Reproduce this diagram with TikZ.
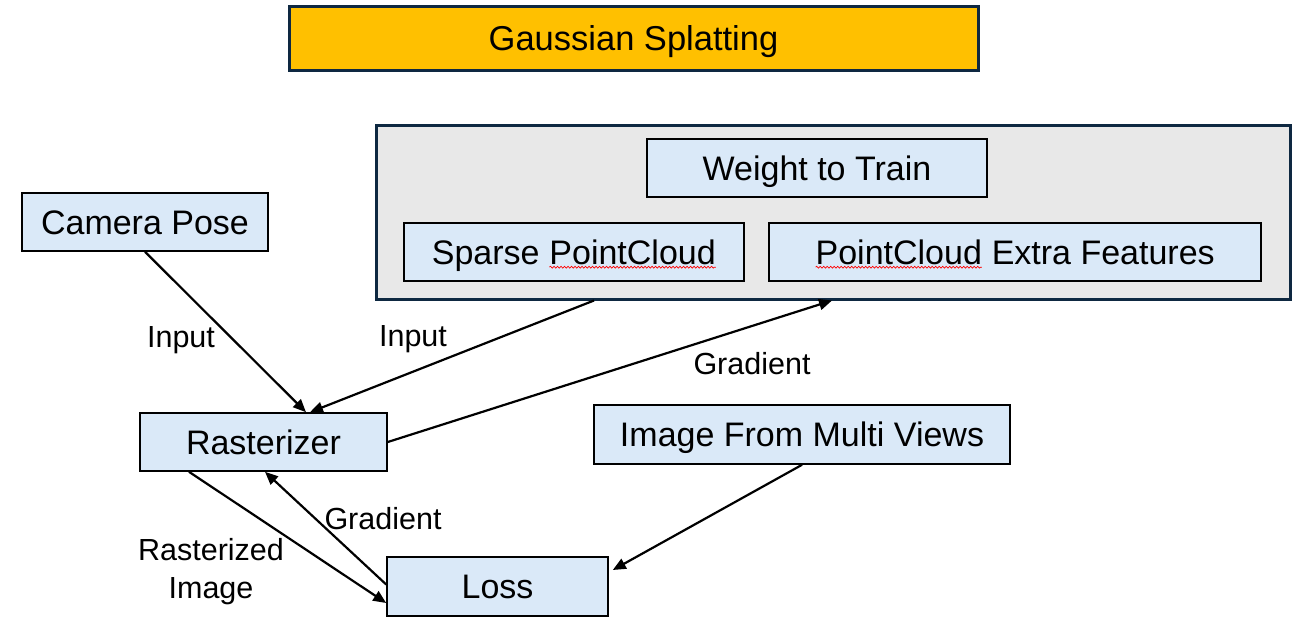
\documentclass[tikz,border=0pt]{standalone}
\usepackage{fontspec}
\setmainfont{Liberation Sans}
\usetikzlibrary{arrows.meta,decorations.pathmorphing}
\definecolor{boxblue}{HTML}{DAE9F8}
\definecolor{titlegold}{HTML}{FFC000}
\definecolor{framenavy}{HTML}{0E2841}
\definecolor{panelgray}{HTML}{E8E8E8}
\newcommand\spellmark[1]{\tikz[baseline=(sw.base)]{\node[draw=none,fill=none,minimum width=0pt,minimum height=0pt,text height=,text depth=,inner sep=0pt,outer sep=0pt,anchor=base] (sw) {#1};\draw[red,line width=0.7pt,decorate,decoration={snake,amplitude=0.9pt,segment length=3.5pt}] ([yshift=-3pt]sw.base west) -- ([yshift=-3pt]sw.base east);}}
\tikzset{
  box/.style={draw=black,line width=1.6pt,fill=boxblue,font=\fontsize{34}{40}\selectfont,inner sep=0pt,text height=24.3pt,text depth=0pt},
  framebox/.style={draw=framenavy,line width=3pt,inner sep=0pt},
  lbl/.style={font=\fontsize{30.5}{38}\selectfont,inner sep=0pt,align=center},
  arr/.style={line width=2.2pt,-{Triangle[length=13pt,width=11pt]}}
}
\begin{document}
\begin{tikzpicture}[x=1pt,y=-1pt]
\useasboundingbox (0,0) rectangle (1303,634);
% title
\node[framebox,fill=titlegold,minimum width=689pt,minimum height=64pt,font=\fontsize{34.5}{40}\selectfont,text height=24.7pt,text depth=0pt] (title) at (633.5,38.5) {Gaussian Splatting};
% container
\node[framebox,fill=panelgray,minimum width=914pt,minimum height=174pt] (cont) at (833,212) {};
\node[box,minimum width=340pt,minimum height=58pt] (weight) at (817,168) {Weight to Train};
\node[box,minimum width=340pt,minimum height=58pt] (sparse) at (574,252) {Sparse \spellmark{PointCloud}};
\node[box,minimum width=492pt,minimum height=58pt] (extra) at (1015,252) {\spellmark{PointCloud} Extra Features};
% other boxes
\node[box,minimum width=246pt,minimum height=58pt] (cam) at (145,222) {Camera Pose};
\node[box,minimum width=247pt,minimum height=58pt] (ras) at (263.5,442) {Rasterizer};
\node[box,minimum width=416pt,minimum height=59pt] (img) at (802,434.5) {Image From Multi Views};
\node[box,minimum width=221pt,minimum height=59pt] (loss) at (497.5,586.5) {Loss};
% connectors
\draw[arr] (cam.south) -- ([xshift=42.5pt]ras.north);
\draw[arr] ([xshift=-239pt]cont.south) -- ([xshift=46.5pt]ras.north);
\draw[arr] (ras.east) -- ([xshift=-1pt]cont.south);
\draw[arr] (img.south) -- ([xshift=4pt,yshift=16.5pt]loss.east);
\draw[arr] ([xshift=-74.5pt]ras.south) -- ([yshift=-16.5pt]loss.west);
\draw[arr] ([yshift=2pt]loss.west) -- ([xshift=1.5pt]ras.south);
% labels
\node[lbl] (l1) at (181,340) {Input};
\node[lbl] (l2) at (413,339) {Input};
\node[lbl] (l3) at (752,364) {Gradient};
\node[lbl] (l4) at (383,519) {Gradient};
\node[lbl] (l5) at (211,572) {Rasterized\\Image};
\end{tikzpicture}
\end{document}
